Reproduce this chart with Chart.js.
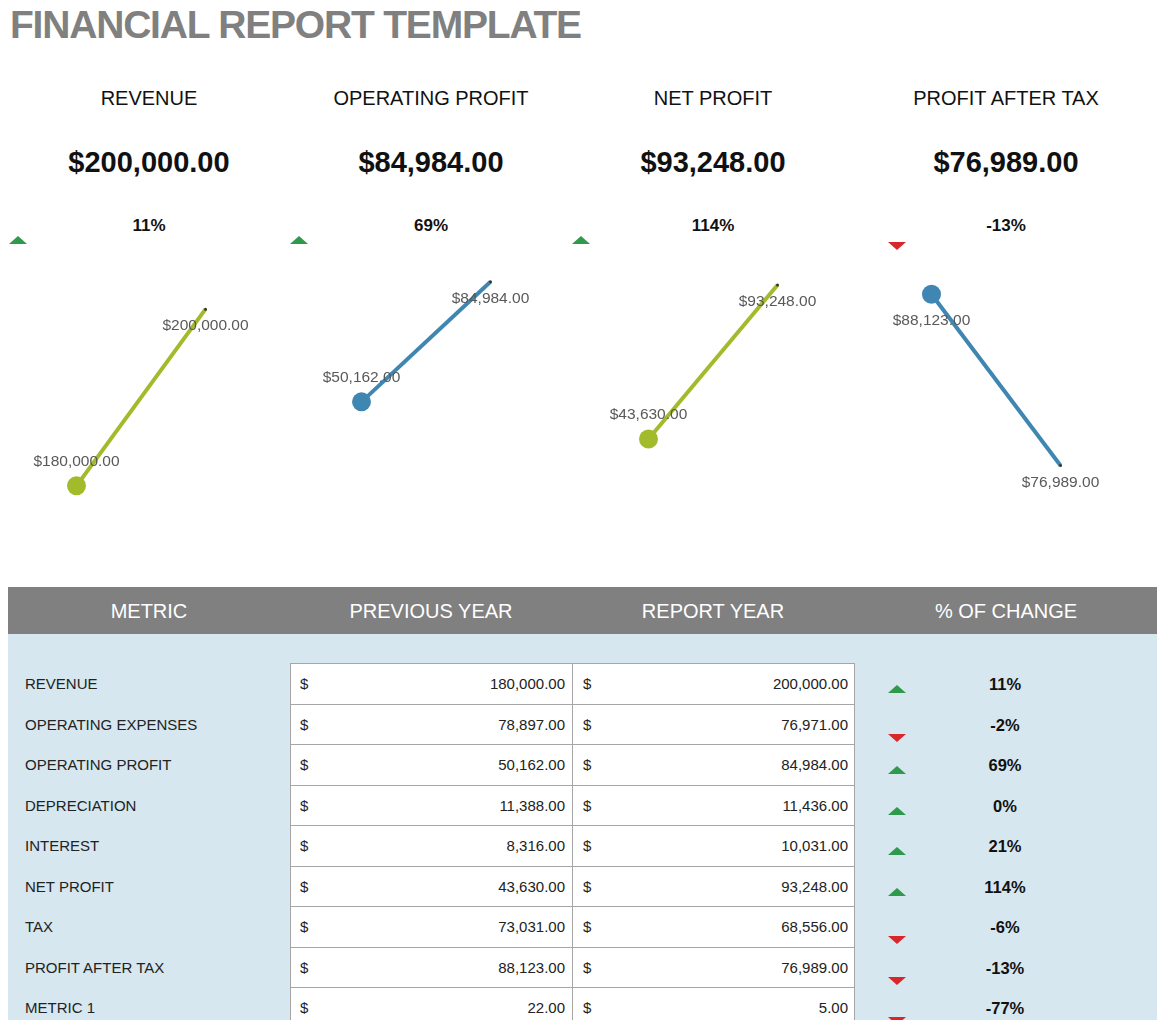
<!DOCTYPE html>
<html>
<head>
<meta charset="utf-8">
<script src="https://cdn.jsdelivr.net/npm/chart.js@4.4.0/dist/chart.umd.min.js"></script>
<style>
  html, body { margin: 0; padding: 0; background: #ffffff; }
  body { width: 1165px; height: 1020px; position: relative; overflow: hidden;
         font-family: "Liberation Sans", Arial, sans-serif; }
  .t { position: absolute; white-space: nowrap; }
  .spark { position: absolute; top: 250px; width: 258px; height: 280px; }
  .up, .down { position: absolute; width: 0; height: 0;
               border-left: 9px solid transparent; border-right: 9px solid transparent; }
  .up { border-bottom: 8px solid #2f9a4c; }
  .down { border-top: 8px solid #d9262b; }
</style>
</head>
<body>
<div id="page"></div>
<script>
// Source values (from the report table)
const metrics = ['REVENUE', 'OPERATING EXPENSES', 'OPERATING PROFIT', 'DEPRECIATION',
                 'INTEREST', 'NET PROFIT', 'TAX', 'PROFIT AFTER TAX', 'METRIC 1'];
const previousYear = [180000, 78897, 50162, 11388, 8316, 43630, 73031, 88123, 22];
const reportYear   = [200000, 76971, 84984, 11436, 10031, 93248, 68556, 76989, 5];

const headers  = ['METRIC', 'PREVIOUS YEAR', 'REPORT YEAR', '% OF CHANGE'];
const kpiNames = ['REVENUE', 'OPERATING PROFIT', 'NET PROFIT', 'PROFIT AFTER TAX'];
const kpiRows  = [0, 2, 5, 7];          // which table row each KPI card uses
const periods  = ['Previous Year', 'Report Year'];

// hidden value axis range of each small chart
const axisMin = [175000, 13000, 14300, 72800];
const axisMax = [206700, 94200, 104500, 91000];

const GREEN = '#a2bb2b';
const BLUE  = '#3f87b2';
const lineColors = [GREEN, BLUE, GREEN, BLUE];
const colCenters = [149, 431, 713, 1006];
const chartLefts = [12, 297, 584, 867];
const kpiArrowX  = [18, 299, 581, 897];

const page = document.getElementById('page');

function txt(cx, cy, str, css, align) {
  const d = document.createElement('div');
  d.className = 't';
  d.textContent = str;
  const h = 40;
  if (align === 'left') {
    d.style.left = cx + 'px';
  } else if (align === 'right') {
    d.style.left = (cx - 300) + 'px';
    d.style.width = '300px';
    d.style.textAlign = 'right';
  } else {
    d.style.left = (cx - 200) + 'px';
    d.style.width = '400px';
    d.style.textAlign = 'center';
  }
  d.style.top = (cy - h / 2) + 'px';
  d.style.height = h + 'px';
  d.style.lineHeight = h + 'px';
  Object.assign(d.style, css || {});
  page.appendChild(d);
  return d;
}

function box(x, y, w, h, css) {
  const d = document.createElement('div');
  d.style.position = 'absolute';
  d.style.left = x + 'px';
  d.style.top = y + 'px';
  d.style.width = w + 'px';
  d.style.height = h + 'px';
  Object.assign(d.style, css || {});
  page.appendChild(d);
  return d;
}

function arrow(cx, top, isUp) {
  const d = document.createElement('div');
  d.className = isUp ? 'up' : 'down';
  d.style.left = (cx - 9) + 'px';
  d.style.top = top + 'px';
  page.appendChild(d);
}

const money = v => v.toLocaleString('en-US', { minimumFractionDigits: 2, maximumFractionDigits: 2 });
const change = i => (reportYear[i] - previousYear[i]) / previousYear[i];
const pctText = i => Math.round(change(i) * 100) + '%';

// Title
txt(10, 25, 'FINANCIAL REPORT TEMPLATE',
    { fontSize: '39px', fontWeight: 'bold', color: '#808080', letterSpacing: '-1.2px' }, 'left');

// KPI cards
kpiNames.forEach((name, k) => {
  const r = kpiRows[k];
  txt(colCenters[k], 98, name, { fontSize: '20px', color: '#111' });
  txt(colCenters[k], 162, '$' + money(reportYear[r]), { fontSize: '29px', fontWeight: 'bold', color: '#111' });
  txt(colCenters[k], 226, pctText(r), { fontSize: '17px', fontWeight: 'bold', color: '#111' });
  const up = change(r) >= 0;
  arrow(kpiArrowX[k], up ? 236 : 242, up);
});

// Data-label plugin: first point above when the line rises, otherwise below
const pointLabels = {
  id: 'pointLabels',
  afterDatasetsDraw(chart) {
    const ctx = chart.ctx;
    const ds = chart.data.datasets[0];
    const meta = chart.getDatasetMeta(0);
    ctx.save();
    ctx.font = '15.5px "Liberation Sans", Arial, sans-serif';
    ctx.fillStyle = '#595959';
    ctx.textAlign = 'center';
    ctx.textBaseline = 'middle';
    meta.data.forEach((pt, i) => {
      const rising = ds.data[1] > ds.data[0];
      const above = i === 0 && rising;
      const dy = above ? -24 : (i === 0 ? 26 : 17);
      ctx.fillText('$' + money(ds.data[i]), pt.x, pt.y + dy);
    });
    ctx.restore();
  }
};

kpiNames.forEach((name, k) => {
  const r = kpiRows[k];
  const cv = document.createElement('canvas');
  cv.className = 'spark';
  cv.style.left = chartLefts[k] + 'px';
  cv.width = 258; cv.height = 280;
  page.appendChild(cv);
  new Chart(cv.getContext('2d'), {
    type: 'line',
    data: {
      labels: periods,
      datasets: [{
        data: [previousYear[r], reportYear[r]],
        borderColor: lineColors[k],
        borderWidth: 4,
        pointRadius: [9.5, 1.5],
        pointBackgroundColor: [lineColors[k], '#333'],
        pointBorderWidth: 0,
        tension: 0,
        clip: false,
      }],
    },
    options: {
      responsive: false,
      animation: false,
      layout: { padding: 0, autoPadding: false },
      plugins: { legend: { display: false }, tooltip: { enabled: false } },
      scales: {
        x: { type: 'category', offset: true, display: false },
        y: { display: false, min: axisMin[k], max: axisMax[k] },
      },
    },
    plugins: [pointLabels],
  });
});

// Table
box(8, 587, 1149, 47, { background: '#808080' });
box(8, 634, 1149, 400, { background: '#d6e7f0' });
headers.forEach((h, i) => {
  txt(colCenters[i], 611, h, { fontSize: '20px', color: '#ffffff' });
});

const rowTop = 663, rowH = 40.5;
box(290, rowTop, 565, rowH * metrics.length + 10, { background: '#ffffff' });
for (let i = 0; i <= metrics.length; i++) {
  box(290, rowTop + i * rowH, 565, 1, { background: '#a6a6a6' });
}
[290, 572, 854].forEach(x => box(x, rowTop, 1, rowH * metrics.length + 10, { background: '#a6a6a6' }));

metrics.forEach((m, i) => {
  const top = rowTop + i * rowH;
  const cy = top + 21;
  const cell = { fontSize: '15px', color: '#222' };
  txt(25, cy, m, cell, 'left');
  txt(300, cy, '$', cell, 'left');
  txt(565, cy, money(previousYear[i]), cell, 'right');
  txt(583, cy, '$', cell, 'left');
  txt(848, cy, money(reportYear[i]), cell, 'right');
  txt(1005, cy, pctText(i), { fontSize: '16.5px', fontWeight: 'bold', color: '#111' });
  const up = change(i) >= 0;
  arrow(897, top + (up ? 22 : 30), up);
});
</script>
</body>
</html>
